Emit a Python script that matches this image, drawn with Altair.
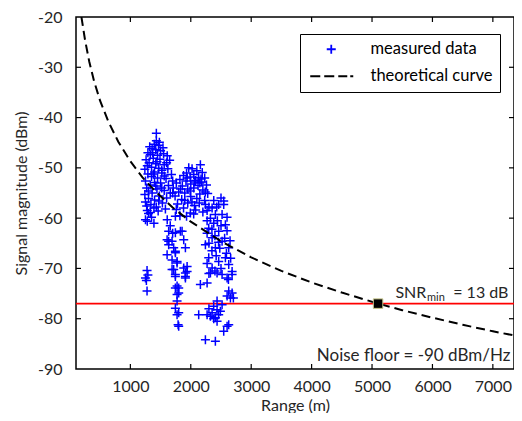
import altair as alt
import pandas as pd

# ---------------- data ----------------
x_ticks = [1000, 2000, 3000, 4000, 5000, 6000, 7000]
y_ticks = [-90, -80, -70, -60, -50, -40, -30, -20]
x_inner_ticks = [1000, 2000, 3000, 4000, 5000, 6000, 7000]
y_inner_ticks = [-80, -70, -60, -50, -40, -30]

meas_range = [
    1430, 1430, 1395, 1465, 1360, 1420, 1500, 1290, 1330, 1450,
    1550, 1610, 1380, 1260, 1490, 1650, 1310, 1420, 1560, 1350,
    1470, 1240, 1620, 1400, 1520, 1290, 1680, 1350, 1450, 1590,
    1250, 1400, 1500, 1330, 1630, 1270, 1440, 1560, 1360, 1240,
    1480, 1300, 1400, 1250, 1340, 1470, 1390, 1280, 1250, 1280,
    1300, 1390, 1330, 1430, 1530, 1580, 1600, 1520, 1370, 1480,
    1320, 1540, 1280, 1600, 1380, 1560, 1420, 1300, 1520, 1460,
    1350, 1270, 1660, 1700, 1440,
    1276, 1250, 1290, 1276, 1265,
    1610, 1634, 1745, 1745, 1828, 1856, 1883, 1634, 1608, 1690,
    1634, 1717, 1911, 1745, 1745, 1608, 1690, 1773, 1773, 1690,
    1717, 1883, 1939, 1939, 1911, 1745, 1911, 1745, 1911, 1773,
    1745, 1800, 1800, 1773, 1773, 1745, 1800, 1773, 1800, 1790,
    1660, 1700,
    1966, 2159, 2021, 2100, 1930, 2190, 1880, 2050, 1990, 2130,
    2230, 1820, 1920, 2080, 2180, 1760, 2000, 1860, 2120, 2260,
    1710, 1950, 2050, 2200, 1800, 1900, 2150, 2280, 1740, 2000,
    2100, 1850, 2230, 1950, 1780, 2060, 1880, 2300, 1993, 2048,
    1820, 2170, 2020, 1700,
    1940, 2060, 2150, 1830, 1990, 2240, 1900, 2140, 1760, 2080,
    2200, 1930,
    2545, 2242, 2353, 2462, 2545, 2500, 2325, 2407, 2518, 2573,
    2297, 2462, 2353, 2518, 2242, 2407, 2628, 2297, 2462, 2573,
    2353, 2628, 2684, 2325, 2518, 2270, 2380, 2440, 2600, 2270,
    2400, 2560, 2650, 2300, 2480, 2350, 2590, 2420, 2660, 2270,
    2500, 2400, 2380, 2430, 2270, 2500, 2350, 2600, 2460, 2300,
    2159, 2270, 2435, 2601, 2684, 2628, 2684, 2601, 2656, 2705,
    2623, 2435, 2518, 2379, 2435, 2353, 2462, 2407, 2325, 2490,
    2435, 2131, 2270, 2601, 2545, 2628, 2242, 2407, 2380, 2300,
]
meas_dbm = [
    -43.1, -44.6, -45.3, -45.5, -46.2, -46.4, -46.6, -47.0, -47.4, -47.5,
    -47.2, -47.6, -48.1, -48.4, -48.3, -48.5, -49.0, -49.2, -49.4, -49.9,
    -50.1, -50.3, -50.2, -50.8, -51.0, -51.2, -51.3, -51.7, -52.0, -52.1,
    -52.6, -52.9, -53.0, -53.4, -53.5, -54.0, -54.2, -54.5, -55.0, -55.3,
    -55.6, -56.1, -56.4, -56.8, -57.3, -56.6, -58.0, -58.5, -60.3, -60.6,
    -59.1, -61.0, -58.9, -57.8, -57.0, -58.2, -56.0, -50.5, -47.0, -44.9,
    -45.8, -46.0, -49.6, -49.0, -51.2, -51.6, -53.6, -54.6, -54.0, -58.6,
    -59.8, -57.6, -55.0, -52.6, -48.8,
    -70.4, -71.9, -71.3, -74.5, -72.4,
    -60.3, -62.6, -59.6, -62.9, -62.6, -62.6, -64.3, -64.6, -64.3, -64.6,
    -65.3, -65.9, -65.9, -66.6, -66.9, -67.3, -68.3, -68.6, -68.9, -70.2,
    -70.2, -69.9, -69.6, -70.6, -70.9, -71.2, -71.9, -71.6, -71.6, -73.5,
    -73.9, -73.9, -74.9, -75.2, -76.5, -77.9, -78.8, -79.2, -81.5, -81.2,
    -61.5, -63.0,
    -50.0, -49.4, -50.2, -50.6, -51.0, -50.9, -51.5, -51.3, -51.8, -51.9,
    -52.0, -52.3, -52.6, -52.5, -52.8, -53.0, -53.2, -53.6, -53.5, -53.4,
    -54.0, -54.2, -54.0, -54.4, -54.8, -55.0, -55.2, -55.1, -55.6, -55.7,
    -56.1, -56.3, -56.5, -57.0, -57.2, -57.5, -58.0, -57.8, -59.0, -59.2,
    -59.5, -52.2, -56.8, -55.0,
    -52.0, -52.8, -53.0, -54.2, -54.6, -54.8, -56.5, -57.0, -58.3, -58.4,
    -58.8, -59.6,
    -56.6, -57.3, -58.0, -57.3, -57.3, -56.0, -60.0, -59.3, -59.3, -61.3,
    -62.0, -62.6, -63.9, -64.6, -65.3, -65.9, -65.9, -67.9, -68.6, -67.9,
    -69.9, -69.2, -70.6, -70.9, -71.2, -58.5, -61.0, -60.5, -62.5, -63.0,
    -63.5, -64.0, -64.5, -65.0, -66.0, -66.5, -67.0, -67.5, -68.0, -69.0,
    -70.0, -70.5, -56.5, -57.8, -60.5, -61.5, -62.2, -59.8, -64.8, -71.0,
    -73.2, -72.9, -70.9, -71.9, -71.2, -74.5, -74.9, -75.5, -75.9, -75.9,
    -72.2, -76.5, -77.2, -77.5, -78.2, -78.8, -79.2, -79.8, -79.5, -78.5,
    -80.5, -79.2, -79.2, -81.5, -82.5, -81.2, -84.2, -84.5, -80.0, -78.0,
]

curve_range = [190, 250, 320, 400, 500, 636, 800, 1000, 1200, 1400, 1700, 2000,
               2500, 3000, 3500, 4000, 4500, 5100, 5500, 6000, 6500, 7000, 7470]
curve_dbm = [-20.0, -24.6, -28.9, -32.8, -36.7, -40.8, -44.8, -48.7, -51.9, -54.5,
             -57.9, -60.7, -64.6, -67.8, -70.5, -72.8, -74.8, -77.0, -78.3, -79.8,
             -81.2, -82.5, -83.6]

threshold_dbm = [-77]
cross_range = [5100]
cross_dbm = [-77]

snr_text = ["SNR", "min", "= 13 dB"]
snr_x = [5387, 5909, 7258]
noise_text = ["Noise floor = -90 dBm/Hz"]
noise_x = [7290]
noise_y = [-90]

series = ["measured data", "theoretical curve"]

# ---------------- chart ----------------
W, H = 438, 352
FONT = "Lato"
TXT = "#262626"
PLUS = "M-1,0L1,0M0,-1L0,1"
DASHES = "M-4.67,0L-2.44,0M-1.56,0L0.67,0M1.56,0L3.56,0M4.22,0L4.89,0"

xs = alt.Scale(domain=[100, 7350], nice=False, zero=False)
ys = alt.Scale(domain=[-90, -20], nice=False, zero=False)

xaxis = alt.Axis(values=x_ticks, title="Range (m)", domain=False, ticks=False, tickSize=0,
                 grid=False, labelFont=FONT, labelFontSize=16, labelColor=TXT,
                 titleFont=FONT, titleFontSize=16, titleFontWeight="normal", titleColor=TXT,
                 labelPadding=9, titleBaseline="alphabetic", titleY=41,
                 labelOverlap=False, labelFlush=False, labelExpr="'' + datum.value")
yaxis = alt.Axis(values=y_ticks, title="Signal magnitude (dBm)", domain=False, ticks=False,
                 tickSize=0, grid=False, labelFont=FONT, labelFontSize=16, labelColor=TXT,
                 titleFont=FONT, titleFontSize=16, titleFontWeight="normal", titleColor=TXT,
                 labelPadding=14, titlePadding=8, labelOverlap=False, labelFlush=False,
                 labelExpr="'' + datum.value")


def X(field):
    return alt.X(field, type="quantitative", scale=xs, axis=xaxis)


def Y(field):
    return alt.Y(field, type="quantitative", scale=ys, axis=yaxis)


legend = alt.Legend(
    title=None, orient="none", legendX=224, legendY=17, padding=7,
    strokeColor="black", fillColor="white", labelFont=FONT, labelFontSize=16.5,
    labelColor="black", symbolSize=81, symbolStrokeWidth=1.8,
    symbolOffset=16, labelOffset=31, rowPadding=10,
)
color_scale = alt.Scale(domain=series, range=["#0000ff", "#000000"])
shape_scale = alt.Scale(domain=series, range=[PLUS, DASHES])

meas_df = pd.DataFrame({"x": meas_range, "y": meas_dbm,
                        "series": [series[0]] * len(meas_range)})
curve_df = pd.DataFrame({"x": curve_range, "y": curve_dbm})
thr_df = pd.DataFrame({"y": threshold_dbm})
cross_df = pd.DataFrame({"x": cross_range, "y": cross_dbm})
snr_df = pd.DataFrame({"x": snr_x, "y": [threshold_dbm[0]] * 3, "t": snr_text})
noise_df = pd.DataFrame({"x": noise_x, "y": noise_y, "t": noise_text})
xt_df = pd.DataFrame({"x": x_inner_ticks})
yt_df = pd.DataFrame({"y": y_inner_ticks})

thr = alt.Chart(thr_df).mark_rule(color="#ff0000", strokeWidth=1.6).encode(y=Y("y"))

points = alt.Chart(meas_df).mark_point(
    size=81, strokeWidth=1.5, filled=False, opacity=1
).encode(x=X("x"), y=Y("y"),
         color=alt.Color("series:N", scale=color_scale, legend=legend),
         shape=alt.Shape("series:N", scale=shape_scale, legend=legend))

curve = alt.Chart(curve_df).mark_line(strokeWidth=2, strokeDash=[9, 5], clip=True,
                                      color="black").encode(x=X("x"), y=Y("y"))

square = alt.Chart(cross_df).mark_square(size=90, color="black", filled=True,
                                         stroke="#c8c88c", strokeWidth=1, opacity=1).encode(
    x=X("x"), y=Y("y"))

snr_main = alt.Chart(snr_df).transform_filter("datum.t == 'SNR'").mark_text(
    align="left", baseline="alphabetic", dy=-6, font=FONT, fontSize=16, color=TXT
).encode(x=X("x"), y=Y("y"), text="t:N")
snr_sub = alt.Chart(snr_df).transform_filter("datum.t == 'min'").mark_text(
    align="left", baseline="alphabetic", dy=-3, font=FONT, fontSize=11, color=TXT
).encode(x=X("x"), y=Y("y"), text="t:N")
snr_eq = alt.Chart(snr_df).transform_filter("datum.t == '= 13 dB'").mark_text(
    align="right", baseline="alphabetic", dy=-6, font=FONT, fontSize=16, color=TXT
).encode(x=X("x"), y=Y("y"), text="t:N")

noise = alt.Chart(noise_df).mark_text(
    align="right", baseline="alphabetic", dy=-8, font=FONT, fontSize=17, color=TXT
).encode(x=X("x"), y=Y("y"), text="t:N")

tick_kw = dict(size=5, thickness=1.2, color="black", opacity=1)
t_bottom = alt.Chart(xt_df).mark_tick(orient="vertical", **tick_kw).encode(
    x=X("x"), y=alt.value(H - 2.5))
t_top = alt.Chart(xt_df).mark_tick(orient="vertical", **tick_kw).encode(
    x=X("x"), y=alt.value(2.5))
t_left = alt.Chart(yt_df).mark_tick(orient="horizontal", **tick_kw).encode(
    y=Y("y"), x=alt.value(2.5))
t_right = alt.Chart(yt_df).mark_tick(orient="horizontal", **tick_kw).encode(
    y=Y("y"), x=alt.value(W - 2.5))

chart = alt.layer(
    thr, points, curve, square, snr_main, snr_sub, snr_eq, noise,
    t_bottom, t_top, t_left, t_right
).properties(
    width=W, height=H,
    autosize=alt.AutoSizeParams(type="none"),
    padding={"left": 68, "top": 9, "right": 0, "bottom": 44},
    background="white",
).configure_view(stroke="black", strokeWidth=1.5)

chart.save("out.html", embed_options={"renderer": "svg", "actions": False})
